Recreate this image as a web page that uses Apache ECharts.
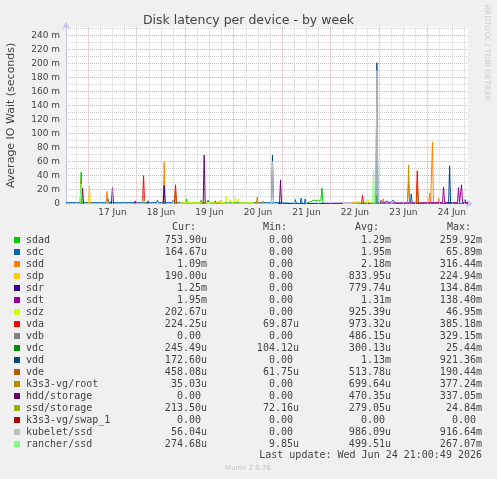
<!DOCTYPE html>
<html><head><meta charset="utf-8">
<script src="https://cdn.jsdelivr.net/npm/echarts@6/dist/echarts.min.js"></script>
<style>html,body{margin:0;padding:0;background:#f0f0f0}#c{width:497px;height:479px}</style>
</head><body><div id="c"></div>
<script>
// ---- data (x = hours since 16 Jun 00:00, y = milliseconds) ----
const G = '-';
const seriesNames = ['sdad','sdc','sdd','sdp','sdr','sdt','sdz','vda','vdb','vdc','vdd','vde','k3s3-vg/root','hdd/storage','ssd/storage','k3s3-vg/swap_1','kubelet/ssd','rancher/ssd'];
const palette = ['#00CC00','#0066B3','#FF8000','#FFCC00','#330099','#990099','#CCFF00','#FF0000','#808080','#008F00','#00487D','#B35A00','#B38F00','#6B006B','#8FB300','#B30000','#BEBEBE','#80FF80'];
const curText = ['753.90u','164.67u','1.09m','190.00u','1.25m','1.95m','202.67u','224.25u','0.00','245.49u','172.60u','458.08u','35.03u','0.00','213.50u','0.00','56.04u','274.68u'];
const minText = ['0.00','0.00','0.00','0.00','0.00','0.00','0.00','69.87u','0.00','104.12u','0.00','61.75u','0.00','0.00','72.16u','0.00','0.00','9.85u'];
const avgText = ['1.29m','1.95m','2.18m','833.95u','779.74u','1.31m','925.39u','973.32u','486.15u','300.13u','1.13m','513.78u','699.64u','470.35u','279.05u','0.00','986.09u','499.51u'];
const maxText = ['259.92m','65.89m','316.44m','224.94m','134.84m','138.40m','46.95m','385.18m','329.15m','25.44m','921.36m','190.44m','377.24m','337.05m','24.84m','0.00','916.64m','267.07m'];

const sdad = [[20,0],[20.5,45],[21,0],G,[34.5,0],[35,3],[35.5,0],G,[72.2,0],[72.7,7],[73.2,0],G,[79.4,0],[79.9,5],[80.4,0],G,[132,0],[134,3],[136,5],[138,4],[139.2,5],[139.7,22],[140.2,0]];
const sdc = [[13,1.5],[33.2,1.5],[33.7,8],[34.2,1.5],[57.7,1.5],[58.2,5],[58.7,1.5],[65.6,1.5],[66.1,5],[66.6,1.5],[82.9,1.5],[83.4,5],[83.9,1.5],[118,1.5],[118.5,0.5],[126,0.5],[126.5,6],[127,0.5],[129,0.5],[129.4,8],[129.9,0.5],[131,0.5],[131.4,7],[131.9,0.5],[168.5,0.5],[169,5],[170,1],[172,4],[173,1],[175,5],[176,0.5],[183.5,0.5],[183.9,14],[184.4,0.5],[210,0.5],[210.6,6],[211,0.5],[212,0.5]];
const sdd = [[32.8,0],[33.3,18],[33.8,0],G,[61.1,0],[61.6,59.5],[62.1,0],G,[89.3,0],[89.8,5],[90.3,0],G,[110,0],[110.5,4],[111,0],G,[157,0],[157.5,3],[158,0],G,[169.5,0],[170,7],[170.5,0],G,[182,0],[182.6,30],[183.2,0],G,[192.5,0],[193,15],[193.5,0],[193.9,0],[194.4,88],[194.9,0],G,[197,0],[197.5,8],[198,0]];
const sdp = [[16,0],[16.5,2],[17,0],G,[24.1,0],[24.6,25],[25.1,0],G,[154,0],[155,2],[158,2],[159,0],G,[161,0],[161.5,4],[162,0]];
const sdr = [[61.1,0],[61.6,26],[62.1,0]];
const sdt = [[46.8,0],[47.3,4],[47.8,0],G,[53.2,0],[53.7,4],[54.2,0],G,[86.4,0],[86.9,4],[87.4,0],G,[118,0],[118.5,1.5],[199.4,1.5],[199.9,24],[200.4,1.5],[206.8,1.5],[207.3,23],[207.8,1.5],[208.3,1.5],[208.8,27],[209.3,1.5],[212,1.5]];
const sdz = [[69,0],[70,1.5],[91.8,1.5],[92.3,10],[92.8,1.5],[93.8,1.5],[94.3,6],[94.8,1.5],[96.3,1.5],[96.8,9],[97.3,1.5],[97.8,1.5],[98.3,7],[98.8,1.5],[101.2,1.5],[101.7,3],[102.2,1.5],[106,1.5],[106.5,0],G,[150,0],[150.5,1.5],[162.1,1.5],[162.6,6],[163.1,1.5],[165,1.5],[165.5,0]];
const vda = [[50.9,0],[51.4,40],[51.9,0],G,[66.7,0],[67.2,27],[67.7,0],G,[159.3,0],[159.8,12],[160.3,0],G,[186.4,0],[186.9,47],[187.4,0]];
const vdb = [[51,0],[51.4,10],[51.8,0]];
const vdc = [[166.5,0],[166.9,12],[167.3,0]];
const vdd = [[114.7,0],[115.2,69.5],[115.7,0],G,[166.4,0],[166.9,201],[167.4,0],G,[202.4,0],[202.9,54],[203.4,0]];
const vde = [[66.7,0],[67.2,21],[67.7,0],G,[186.4,0],[186.9,30],[187.4,0]];
const k3s3Root = [[20,0],[20.5,35],[21,0],G,[107.2,0],[107.7,9.5],[108.2,0],G,[182.1,0],[182.6,55],[183.1,0]];
const hddStorage = [[20.7,0],[21.2,22],[21.7,0],G,[35.5,0],[36,24],[36.5,0],G,[80.9,0],[81.4,69.5],[81.9,0],G,[118.7,0],[119.2,34],[119.7,0]];
const ssdStorage = [[88,0],[88.5,3],[89,0]];
const k3s3Swap = [];
const kubeletSsd = [[114.7,0],[115.2,60],[115.7,0],G,[166.4,0],[166.9,190],[167.4,0]];
const rancherSsd = [[20,0],[20.5,28],[21,0],G,[51,0],[51.4,8],[51.8,0],G,[164.7,0],[165.2,47],[165.7,0]];

// grid hours (every 6 h; midnights are the major lines) and day labels at noon
const xGridHours = [18,24,30,36,42,48,54,60,66,72,78,84,90,96,102,108,114,120,126,132,138,144,150,156,162,168,174,180,186,192,198,204,210];
const xLabelHours = [36,60,84,108,132,156,180,204];
const dayNames = {36:'17 Jun',60:'18 Jun',84:'19 Jun',108:'20 Jun',132:'21 Jun',156:'22 Jun',180:'23 Jun',204:'24 Jun'};

const allData = [sdad,sdc,sdd,sdp,sdr,sdt,sdz,vda,vdb,vdc,vdd,vde,k3s3Root,hddStorage,ssdStorage,k3s3Swap,kubeletSsd,rancherSsd];

// ---- chart ----
const chart = echarts.init(document.getElementById('c'), null, {renderer:'canvas'});
const TXT = '#444';
const MAJ = '#eaa6a6', MIN = '#d2d2d2';
const AX = '#c4c4ee';

const graphics = [];
const rowY0 = 240, rowStep = 12;
const mono = '"DejaVu Sans Mono", monospace';
const pad = s => /[0-9]$/.test(s) ? s + ' ' : s;
[['Cur:',172],['Min:',263],['Avg:',355],['Max:',447]].forEach(([t,x]) => {
  graphics.push({type:'text', x:x, y:227, style:{text:t, font:'10px '+mono, fill:TXT, textVerticalAlign:'middle'}});
});
seriesNames.forEach((n,i) => {
  const y = rowY0 + i*rowStep;
  graphics.push({type:'rect', shape:{x:14,y:y-3,width:6,height:6}, style:{fill:palette[i]}});
  graphics.push({type:'text', x:26, y:y, style:{text:n, font:'10px '+mono, fill:TXT, textVerticalAlign:'middle'}});
  [[curText,207],[minText,299],[avgText,391],[maxText,482]].forEach(([arr,xr]) => {
    graphics.push({type:'text', x:xr, y:y, style:{text:pad(arr[i]), font:'10px '+mono, fill:TXT, textAlign:'right', textVerticalAlign:'middle'}});
  });
});
graphics.push({type:'text', x:482, y:455, style:{text:'Last update: Wed Jun 24 21:00:49 2026', font:'10px '+mono, fill:TXT, textAlign:'right', textVerticalAlign:'middle'}});
graphics.push({type:'text', x:248, y:468, style:{text:'Munin 2.0.76', font:'7px "DejaVu Sans"', fill:'#c4c4c4', textAlign:'center', textVerticalAlign:'middle'}});
graphics.push({type:'text', x:487, y:53, rotation:-Math.PI/2, style:{text:'RRDTOOL / TOBI OETIKER', font:'7.5px "DejaVu Sans"', fill:'#cccccc', textAlign:'center', textVerticalAlign:'middle'}});

const gridSeries = {
  type:'line', name:'grid', data:[[13,G]], showSymbol:false, silent:true, z:0,
  markLine:{silent:true, symbol:['none','none'], animation:false, label:{show:false},
    data: xGridHours.map(h => ({xAxis:h, lineStyle:{color: h%24===0 ? MAJ : MIN, type:'dotted', width:1}}))}
};

chart.setOption({
  animation:false,
  backgroundColor:'#f0f0f0',
  title:{text:'Disk latency per device - by week', left:'center', top:9,
    textStyle:{fontFamily:'DejaVu Sans', fontSize:12.5, fontWeight:'normal', color:'#444'}},
  grid:{left:66, right:29, top:27, bottom:275.3, show:true, backgroundColor:'#ffffff', borderWidth:0, containLabel:false, outerBoundsMode:'none'},
  xAxis:{type:'value', min:13, max:212,
    axisLine:{show:true, lineStyle:{color:AX, width:1}, symbol:['none','arrow'], symbolSize:[6,7], symbolOffset:[0,5]},
    axisTick:{show:false},
    axisLabel:{customValues:xLabelHours, formatter:v => dayNames[v] || '', fontFamily:'DejaVu Sans', fontSize:9, color:TXT, margin:4},
    splitLine:{show:false}
  },
  yAxis:{type:'value', min:0, max:252, interval:10,
    name:'Average IO Wait (seconds)', nameLocation:'middle', nameGap:49, nameRotate:90,
    nameTextStyle:{fontFamily:'DejaVu Sans', fontSize:11, color:TXT},
    axisLine:{show:true, lineStyle:{color:AX, width:1}, symbol:['none','arrow'], symbolSize:[6,7], symbolOffset:[0,5]},
    axisTick:{show:false},
    axisLabel:{formatter:v => (Math.round(v)%20===0 && Math.abs(v-Math.round(v))<1e-6) ? (v===0?'0':Math.round(v)+' m') : '', fontFamily:'DejaVu Sans', fontSize:9, color:TXT, margin:6},
    splitLine:{show:true, showMaxLine:false, lineStyle:{color:[MAJ,MIN], type:'dotted', width:1}}
  },
  series: [gridSeries].concat(allData.map((d,i) => ({
    type:'line', name:seriesNames[i], data:d, showSymbol:false, symbol:'none', connectNulls:false, z:2,
    lineStyle:{width:1, color:palette[i]}, itemStyle:{color:palette[i]}, silent:true
  }))),
  graphic: graphics
});
</script></body></html>
